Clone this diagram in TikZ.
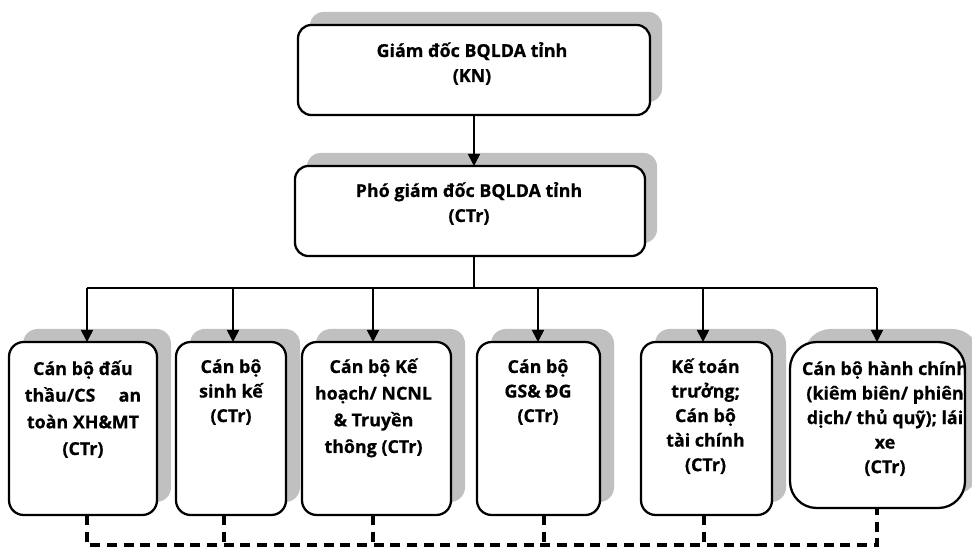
\documentclass[tikz,border=0pt]{standalone}
\usepackage{fontspec}
\setmainfont{Open Sans}[BoldFont={Open Sans Bold}, BoldFeatures={FakeBold=0.6}]
\usetikzlibrary{shadows,arrows.meta}
\definecolor{shadowgray}{HTML}{C0C0C0}
\newcommand{\txtlines}[1]{\parbox[t]{200pt}{\centering #1}}
\tikzset{
  x=0.75pt, y=-0.75pt,
  boxbase/.style={draw=black, line width=1.7pt, fill=white, inner sep=0pt, outer sep=0pt},
  topbox/.style={boxbase, rounded corners=10pt, drop shadow={shadow xshift=9pt, shadow yshift=9.75pt, fill=shadowgray, opacity=1}},
  lowbox/.style={boxbase, rounded corners=11pt, drop shadow={shadow xshift=10.5pt, shadow yshift=9.75pt, fill=shadowgray, opacity=1}},
  lbl/.style={anchor=base, inner sep=0pt, outer sep=0pt},
  lblT/.style={lbl, font=\bfseries\fontsize{13.4pt}{18.75pt}\selectfont},
  lblA/.style={lbl, font=\bfseries\fontsize{13.4pt}{20pt}\selectfont},
  lblB/.style={lbl, font=\bfseries\fontsize{13.4pt}{18.4pt}\selectfont},
  conn/.style={line width=1.25pt, draw=black},
  arr/.style={conn, -{Triangle[length=9pt,width=9pt]}},
  dashline/.style={line width=2.3pt, draw=black, dash pattern=on 7.5pt off 5pt}
}
\begin{document}
\begin{tikzpicture}
\useasboundingbox (0,0) rectangle (972,549);

% boxes
\node[topbox, minimum width={352*0.75pt}, minimum height={90*0.75pt}] (top) at (474,70) {};
\node[topbox, minimum width={350*0.75pt}, minimum height={90*0.75pt}] (vp) at (470,211) {};
\node[lowbox, minimum width={148*0.75pt}, minimum height={173*0.75pt}] (b1) at (83,428.5) {};
\node[lowbox, minimum width={110*0.75pt}, minimum height={173*0.75pt}] (b2) at (231,428.5) {};
\node[lowbox, minimum width={149*0.75pt}, minimum height={173*0.75pt}] (b3) at (376.5,428.5) {};
\node[lowbox, minimum width={123*0.75pt}, minimum height={173*0.75pt}] (b4) at (538.5,428.5) {};
\node[lowbox, minimum width={131*0.75pt}, minimum height={173*0.75pt}] (b5) at (706.5,428.5) {};
\node[boxbase, rounded corners=20pt, minimum width={175*0.75pt}, minimum height={166*0.75pt},
      drop shadow={shadow xshift=10.5pt, shadow yshift=9.75pt, fill=shadowgray, opacity=1}] (b6) at (877.5,425) {};

% texts
\node[lblT] (ttop) at (472,57) {\txtlines{Giám đốc BQLDA tỉnh\\(KN)}};
\node[lblT] (tvp) at (469,197) {\txtlines{Phó giám đốc BQLDA tỉnh\\(CTr)}};
\node[lblA] (t1) at (83,375) {\txtlines{Cán bộ đấu\\thầu/CS\hspace{1.3em}an\\toàn XH\&MT\\(CTr)}};
\node[lblB] (t2) at (231,373) {\txtlines{Cán bộ\\sinh kế\\(CTr)}};
\node[lblA] (t3) at (373.5,373) {\txtlines{Cán bộ Kế\\hoạch/ NCNL\\\& Truyền\\thông (CTr)}};
\node[lblB] (t4) at (538,373) {\txtlines{Cán bộ\\GS\& ĐG\\(CTr)}};
\node[lblB] (t5) at (705.5,373) {\txtlines{Kế toán\\trưởng;\\Cán bộ\\tài chính\\(CTr)}};
\begin{scope}
  \clip[rounded corners=19pt] ([shift={(1,-1)}]b6.south west) rectangle ([shift={(-1,1)}]b6.north east);
  \node[lblB] (t6) at (885,375) {\txtlines{Cán bộ hành chính\\(kiêm biên/ phiên\\dịch/ thủ quỹ); lái\\xe\\(CTr)}};
\end{scope}

% connectors
\coordinate (bar) at (474,288);
\coordinate (j1) at (87,288);
\coordinate (j2) at (233,288);
\coordinate (j3) at (373,288);
\coordinate (j4) at (538,288);
\coordinate (j5) at (703,288);
\coordinate (j6) at (877,288);
\draw[arr] (top.south -| bar) -- (bar |- vp.north);
\draw[conn] (bar |- vp.south) -- (bar);
\draw[conn] (j1) -- (j6);
\draw[arr] (j1) -- (j1 |- b1.north);
\draw[arr] (j2) -- (j2 |- b2.north);
\draw[arr] (j3) -- (j3 |- b3.north);
\draw[arr] (j4) -- (j4 |- b4.north);
\draw[arr] (j5) -- (j5 |- b5.north);
\draw[arr] (j6) -- (j6 |- b6.north);

% dashed links
\coordinate (d1) at (87,545);
\coordinate (d2) at (224,545);
\coordinate (d3) at (373,545);
\coordinate (d4) at (544,545);
\coordinate (d5) at (704,545);
\coordinate (d6) at (877,545);
\draw[dashline] (d1 |- b1.south) -- (d1) -- (d6) -- (d6 |- b6.south);
\draw[dashline] (d2 |- b2.south) -- (d2);
\draw[dashline] (d3 |- b3.south) -- (d3);
\draw[dashline] (d4 |- b4.south) -- (d4);
\draw[dashline] (d5 |- b5.south) -- (d5);
\end{tikzpicture}
\end{document}
